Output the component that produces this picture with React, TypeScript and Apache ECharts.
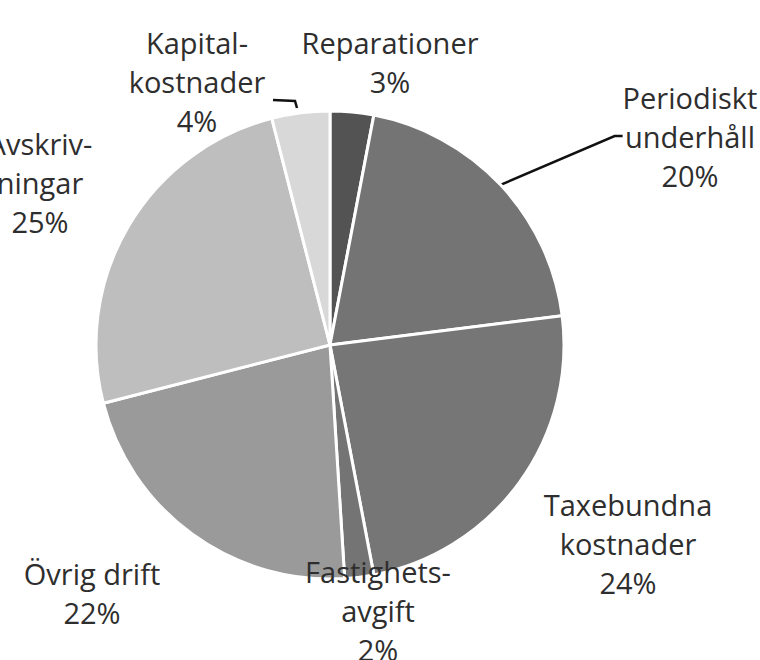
import React, { useEffect, useRef } from "react";
import * as echarts from "echarts";

const categories = [
  "Reparationer",
  "Periodiskt\nunderhåll",
  "Taxebundna\nkostnader",
  "Fastighets-\navgift",
  "Övrig drift",
  "Avskriv-\nningar",
  "Kapital-\nkostnader",
];
const shares = [3, 20, 24, 2, 22, 25, 4];
const sliceColors = ["#535353", "#747474", "#767676", "#747474", "#9a9a9a", "#bebebe", "#d8d8d8"];
const showLeader = [false, true, false, false, false, false, false];
const labelCenters = [
  [390, 62],
  [690, 136],
  [628, 543],
  [378, 610],
  [92, 593],
  [40, 182],
  [197, 81],
];

export default function App() {
  const ref = useRef<HTMLDivElement>(null);
  useEffect(() => {
    document.body.style.margin = "0";
    const chart = echarts.init(ref.current!, null, { renderer: "svg" });
    chart.setOption({
      animation: false,
      backgroundColor: "#ffffff",
      graphic: [
        {
          type: "polyline",
          shape: { points: [[273, 100], [295, 101], [297, 108]] },
          style: { stroke: "#111", lineWidth: 2.5, fill: "none" },
          z: 10,
        },
      ],
      series: [
        {
          type: "pie",
          center: [330, 345],
          radius: 234,
          startAngle: 90,
          clockwise: true,
          avoidLabelOverlap: false,
          itemStyle: { borderColor: "#ffffff", borderWidth: 3 },
          label: {
            show: true,
            position: "outside",
            fontFamily: "Open Sans",
            fontSize: 29,
            lineHeight: 39,
            color: "#2e2e2e",
            align: "center",
            formatter: (p: any) => `${p.name}\n${Math.round(p.percent)}%`,
          },
          labelLine: { length: 8, length2: 8, lineStyle: { color: "#111", width: 2.5 } },
          labelLayout: (p: any) => {
            const c = labelCenters[p.dataIndex];
            return { x: c[0], y: c[1], align: "center", verticalAlign: "middle" };
          },
          data: categories.map((name, i) => ({
            name,
            value: shares[i],
            itemStyle: { color: sliceColors[i] },
            labelLine: { show: showLeader[i] },
          })),
        },
      ],
    });
    return () => chart.dispose();
  }, []);
  return <div ref={ref} style={{ width: 760, height: 660 }} />;
}
